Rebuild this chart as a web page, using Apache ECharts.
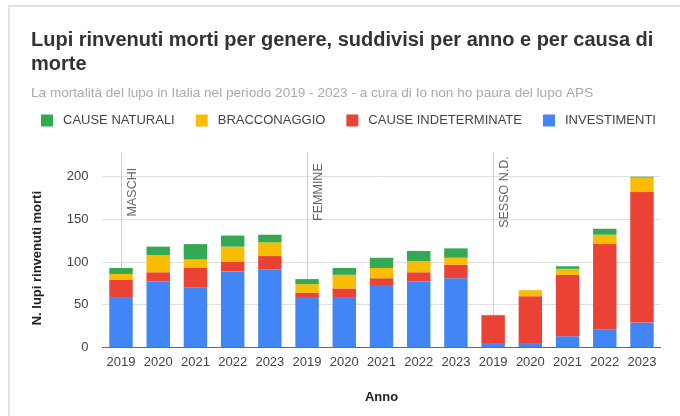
<!DOCTYPE html>
<html>
<head>
<meta charset="utf-8">
<script src="https://cdn.jsdelivr.net/npm/echarts@6/dist/echarts.min.js"></script>
<style>
html,body{margin:0;padding:0;background:#fff;}
#chart{width:680px;height:416px;}
</style>
</head>
<body>
<div id="chart"></div>
<script>
var groups = ['MASCHI', 'FEMMINE', 'SESSO N.D.'];
var years = ['2019', '2020', '2021', '2022', '2023'];
var seriesNames = ['CAUSE NATURALI', 'BRACCONAGGIO', 'CAUSE INDETERMINATE', 'INVESTIMENTI'];
// values per group: MASCHI, FEMMINE, SESSO N.D. (2019..2023)
var investimenti = [58, 77, 70, 89, 91,   59, 58, 73, 77, 81,   4, 5, 13, 21, 29];
var indeterminate = [21, 11, 23, 11, 16,  5, 11, 8, 11, 16,     33, 55, 72, 100, 153];
var bracconaggio = [7, 20, 10, 18, 16,    10, 16, 12, 13, 8,    0, 7, 7, 11, 17];
var naturali = [7, 10, 18, 13, 9,         6, 8, 12, 12, 11,     1, 0, 3, 7, 1];
var yTicks = [0, 50, 100, 150, 200];
var yTop = 229; // top of plot area (group divider lines reach it)

var categories = [];
groups.forEach(function (g) { years.forEach(function (y) { categories.push(g + '|' + y); }); });

var colors = {
  'INVESTIMENTI': '#4285F4',
  'CAUSE INDETERMINATE': '#EA4335',
  'BRACCONAGGIO': '#FBBC04',
  'CAUSE NATURALI': '#34A853'
};
var FONT = 'Liberation Sans, Arial, sans-serif';

var markData = [];
groups.forEach(function (g, i) {
  var idx = i * years.length;
  markData.push([
    { xAxis: idx, yAxis: 0, label: { show: false } },
    { xAxis: idx, yAxis: yTop }
  ]);
  markData.push([
    { xAxis: idx, yAxis: 135, lineStyle: { color: 'rgba(0,0,0,0)', opacity: 1 },
      label: { show: true, formatter: g, position: 'insideMiddleBottom', distance: 5, opacity: 1,
               color: '#666', fontSize: 12.5, fontFamily: FONT } },
    { xAxis: idx, yAxis: yTop }
  ]);
});

function bar(name, data) {
  return {
    name: name, type: 'bar', stack: 'tot', data: data, barWidth: '63%',
    itemStyle: { color: colors[name] }, z: 2
  };
}

var series = [
  bar('INVESTIMENTI', investimenti),
  bar('CAUSE INDETERMINATE', indeterminate),
  bar('BRACCONAGGIO', bracconaggio),
  bar('CAUSE NATURALI', naturali)
];
series[0].markLine = {
  z: 1, silent: true, symbol: 'none', animation: false,
  lineStyle: { color: '#d0d0d0', width: 1, type: 'solid' },
  label: { show: false },
  data: markData
};

var option = {
  animation: false,
  textStyle: { fontFamily: FONT },
  graphic: [{
    type: 'rect', shape: { x: 9, y: 6, width: 700, height: 440 },
    style: { fill: 'none', stroke: '#e3e3e3', lineWidth: 2 }, silent: true
  }],
  title: [
    { text: 'Lupi rinvenuti morti per genere, suddivisi per anno e per causa di\nmorte',
      left: 31, top: 28, padding: 0,
      textStyle: { fontSize: 20, fontWeight: 'bold', color: '#333', lineHeight: 24, fontFamily: FONT } },
    { text: 'La mortalità del lupo in Italia nel periodo 2019 - 2023 - a cura di Io non ho paura del lupo APS',
      left: 31, top: 85, padding: 0,
      textStyle: { fontSize: 13.6, fontWeight: 'normal', color: '#aaa', lineHeight: 16, fontFamily: FONT } }
  ],
  legend: {
    data: seriesNames, left: 41, top: 114, padding: 0,
    icon: 'rect', itemWidth: 12, itemHeight: 12, itemGap: 21,
    textStyle: { fontSize: 13, color: '#444', fontFamily: FONT, padding: [0, 0, 0, 5] }
  },
  grid: { left: 102.4, right: 19.4, top: 152, bottom: 68.7, containLabel: false },
  xAxis: {
    type: 'category', data: categories,
    name: 'Anno', nameLocation: 'middle', nameGap: 44,
    nameTextStyle: { fontSize: 13, fontWeight: 'bold', color: '#222', fontFamily: FONT },
    axisLine: { lineStyle: { color: '#666' } },
    axisTick: { show: false },
    axisLabel: { interval: 0, margin: 9, fontSize: 13, color: '#444', fontFamily: FONT,
      formatter: function (v) { return v.split('|')[1]; } }
  },
  yAxis: {
    type: 'value', min: yTicks[0], max: yTop, interval: 50,
    name: 'N. lupi rinvenuti morti', nameLocation: 'middle', nameGap: 58, nameRotate: 90,
    nameTextStyle: { fontSize: 13, fontWeight: 'bold', color: '#222', fontFamily: FONT, padding: [0, 17, 0, 0] },
    axisLine: { show: false }, axisTick: { show: false },
    axisLabel: { margin: 14, fontSize: 13, color: '#444', fontFamily: FONT, showMaxLabel: false,
      formatter: function (v) { return yTicks.indexOf(v) >= 0 ? String(v) : ''; } },
    splitLine: { showMaxLine: false, lineStyle: { color: '#e0e0e0' } }
  },
  series: series
};

var chart = echarts.init(document.getElementById('chart'), null, { renderer: 'canvas' });
chart.setOption(option);
</script>
</body>
</html>
